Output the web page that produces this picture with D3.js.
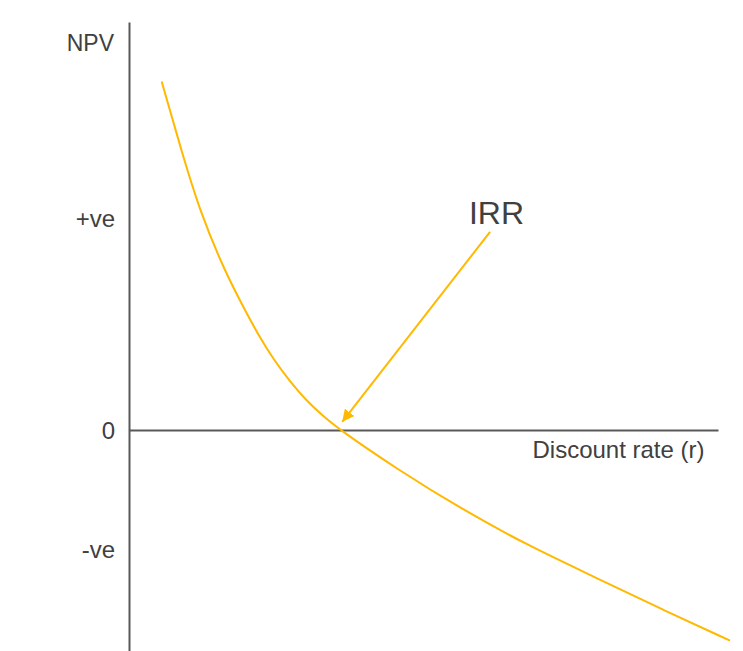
<!DOCTYPE html>
<html>
<head>
<meta charset="utf-8">
<script src="https://cdn.jsdelivr.net/npm/d3@7"></script>
<style>
  body { margin: 0; background: #fff; }
  svg { display: block; font-family: "Liberation Sans", Arial, sans-serif; }
  .axis text { fill: #404040; font-size: 24px; }
</style>
</head>
<body>
<div id="chart"></div>
<script>
// Discount rate (arbitrary units) and NPV (arbitrary units)
const rates = [1.11, 1.79, 2.41, 3.26, 3.88, 4.45, 4.90, 5.47, 6.03, 6.60, 7.16, 9.09, 11.34, 13.62, 15.88, 18.13, 20.41];
const npvs  = [164.5, 131.4, 103.1, 74.7, 58.1, 43.4, 33.5, 22.7, 13.7, 6.4, 0, -18.4, -37.8, -55.1, -69.9, -85.0, -99.5];

// y tick values and their labels
const yTickValues = [100, 0, -56.2];
const yTickLabels = ['+ve', '0', '-ve'];

// IRR annotation: label anchor and arrow start/end, in data units
const irrLabel = 'IRR';
const irrText  = [12.48, 100];
const irrArrow = [[12.26, 93.5], [7.24, 3.8]];

const width = 743, height = 651;
const margin = [22, 25, 0, 129]; // top, right, bottom, left

const svg = d3.select('#chart').append('svg')
    .attr('width', width)
    .attr('height', height);

// Scales
const scaleX = d3.scaleLinear([0, 20], [margin[3], width - margin[1]]);
const scaleY = d3.scaleLinear([-104.4, 192.6], [height - margin[2], margin[0]]);

// Arrow head
svg.append('defs').append('marker')
    .attr('id', 'arrowhead')
    .attr('viewBox', '0 0 10 10')
    .attr('refX', 10).attr('refY', 5)
    .attr('markerWidth', 6).attr('markerHeight', 6)
    .attr('markerUnits', 'strokeWidth')
    .attr('orient', 'auto')
  .append('path')
    .attr('d', 'M0,0L10,5L0,10Z')
    .attr('fill', '#FFB900');

// Y axis (ticks as text only)
const axisY = svg.append('g')
    .classed('axis', true)
    .attr('transform', `translate(${scaleX(0)},0)`)
    .call(d3.axisLeft(scaleY)
        .tickValues(yTickValues)
        .tickFormat((d, i) => yTickLabels[i])
        .tickSize(0)
        .tickSizeOuter(0)
        .tickPadding(14));
axisY.select('.domain').attr('stroke', '#595959').attr('stroke-width', 2);
axisY.selectAll('text').attr('dy', '0.36em');

// X axis along NPV = 0
const axisX = svg.append('g')
    .classed('axis', true)
    .attr('transform', `translate(0,${scaleY(0)})`)
    .call(d3.axisBottom(scaleX).tickValues([]).tickSizeOuter(0));
axisX.select('.domain').attr('stroke', '#595959').attr('stroke-width', 2);

// Axis labels
svg.append('text')
    .attr('x', scaleX(0) - 15)
    .attr('y', 51)
    .attr('text-anchor', 'end')
    .attr('fill', '#404040')
    .style('font-size', '23px')
    .text('NPV');

svg.append('text')
    .attr('x', 618.5)
    .attr('y', scaleY(0) + 28)
    .attr('text-anchor', 'middle')
    .attr('fill', '#404040')
    .style('font-size', '24px')
    .text('Discount rate (r)');

// NPV curve (basis spline smooths out small reading errors)
const line = d3.line()
    .x(d => scaleX(d[0]))
    .y(d => scaleY(d[1]))
    .curve(d3.curveBasis);

svg.append('path')
    .datum(d3.zip(rates, npvs))
    .attr('d', line)
    .attr('fill', 'none')
    .attr('stroke', '#FFB900')
    .attr('stroke-width', 2);

// IRR annotation
svg.append('path')
    .datum(irrArrow)
    .attr('d', d3.line().x(d => scaleX(d[0])).y(d => scaleY(d[1])))
    .attr('fill', 'none')
    .attr('stroke', '#FFB900')
    .attr('stroke-width', 2)
    .attr('marker-end', 'url(#arrowhead)');

svg.append('text')
    .attr('x', scaleX(irrText[0]))
    .attr('y', scaleY(irrText[1]) + 6)
    .attr('text-anchor', 'middle')
    .attr('fill', '#404040')
    .style('font-size', '32px')
    .text(irrLabel);
</script>
</body>
</html>
